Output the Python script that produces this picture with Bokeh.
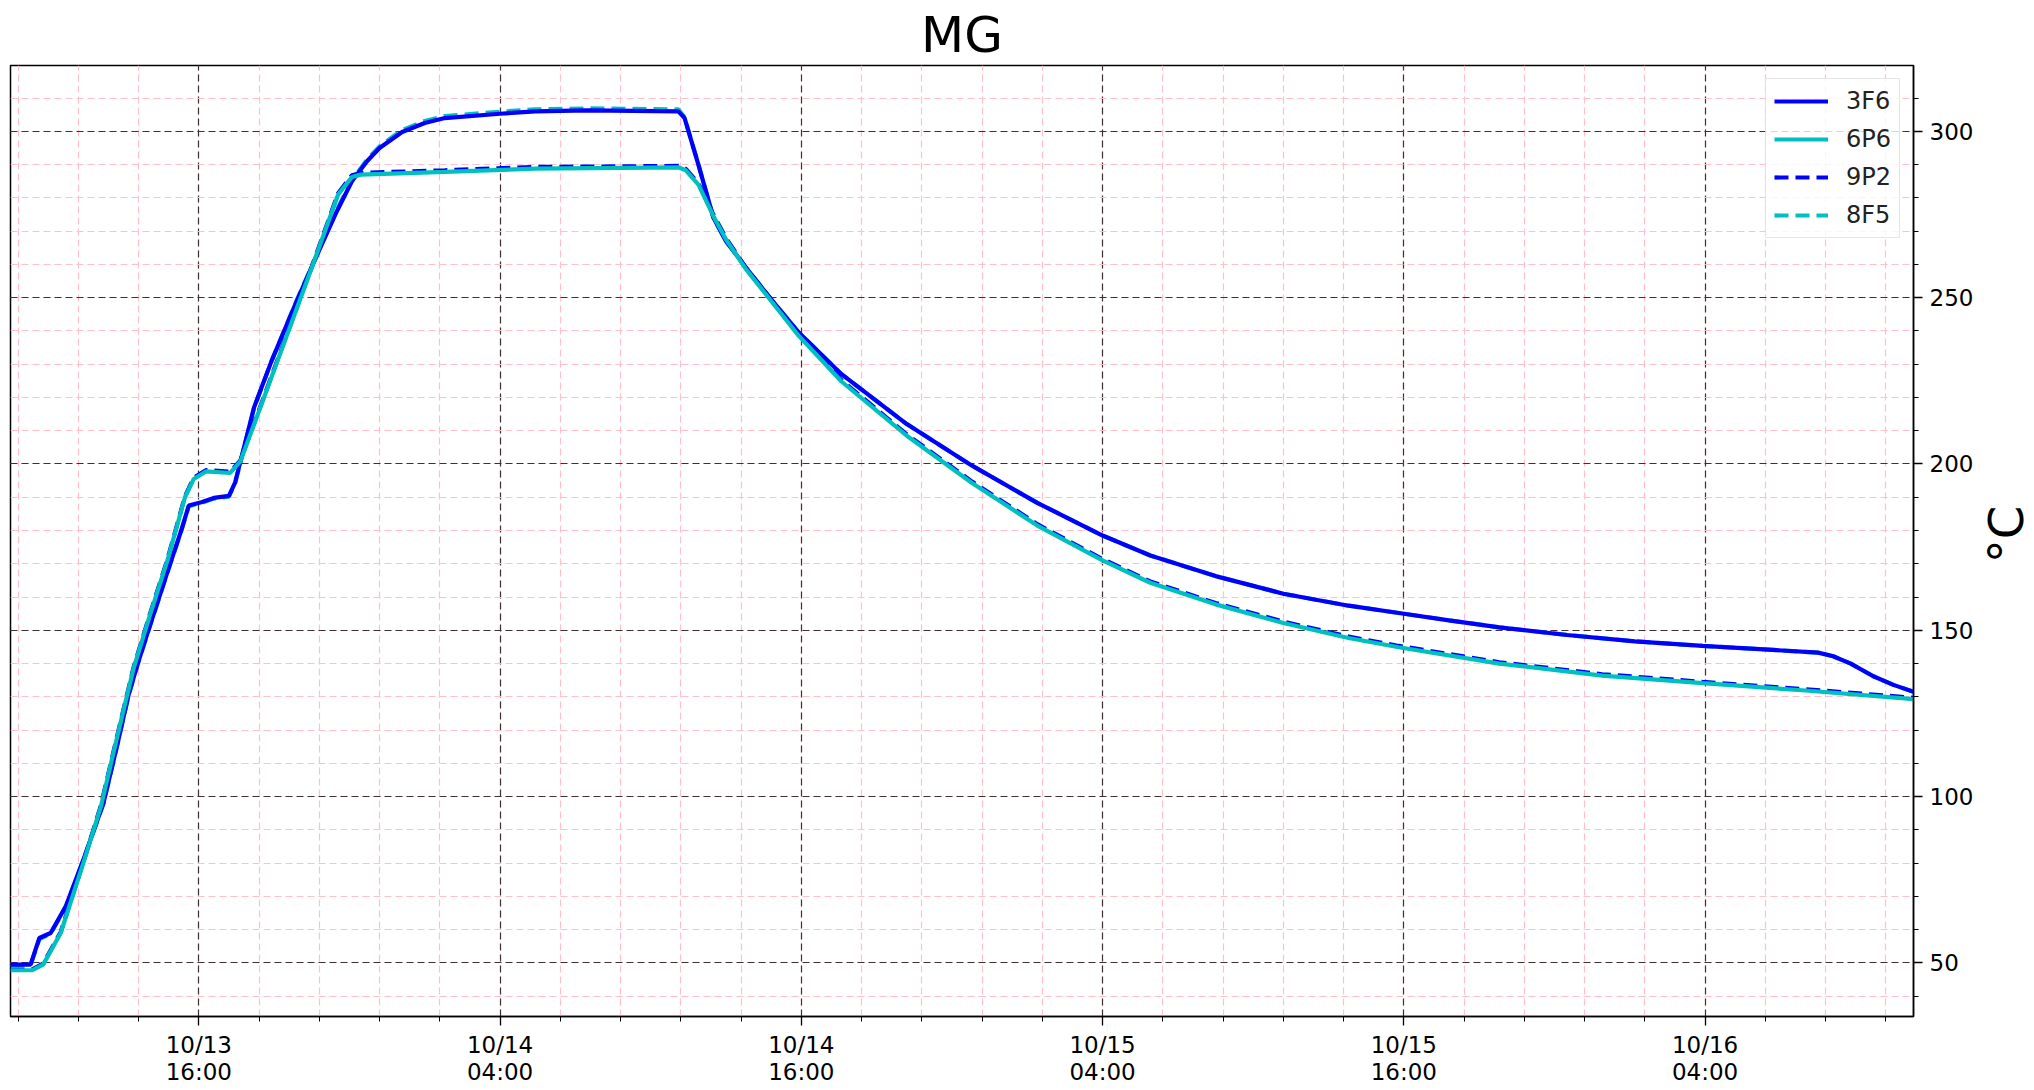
import math
from datetime import datetime, timedelta

from bokeh.plotting import figure
from bokeh.layouts import row
from bokeh.models import (FixedTicker, SingleIntervalTicker, CustomJSTickFormatter,
                          Legend, LegendItem, Range1d)
from bokeh.core.properties import value
from bokeh.embed import file_html
from bokeh.resources import INLINE

# ---------------- data ----------------
START = datetime(2023, 10, 13, 8, 30)

# hours after START for the hotter pair (3F6 / 8F5)
HOURS_A = [0.0, 0.8, 1.15, 1.6, 2.2, 2.9, 3.7, 4.25, 4.7, 5.05, 5.45, 6.25, 6.8, 7.1,
           7.6, 8.1, 8.7, 8.95, 9.15, 9.7, 10.4, 11.4, 12.4, 13.0, 13.6, 14.2, 14.7,
           15.6, 16.5, 17.3, 19.5, 20.9, 23.0, 26.6, 26.85, 27.4, 28.0, 28.5, 29.3,
           30.3, 31.4, 33.1, 35.7, 38.3, 40.9, 43.5, 45.4, 48.0, 50.7, 53.3, 55.3,
           57.3, 59.3, 62.0, 64.7, 67.4, 70.2, 72.0, 72.6, 73.3, 74.2, 75.0, 75.8]
T_3F6 = [49.5, 49.5, 57.5, 59.0, 67.0, 81.0, 98.0, 115.5, 130.5, 139.5, 149.0, 167.5,
         180.0, 187.5, 188.5, 189.8, 190.4, 194.5, 200.5, 217.0, 231.0, 249.0, 266.0,
         276.0, 285.0, 291.0, 295.0, 299.8, 302.5, 304.0, 305.3, 306.0, 306.3, 306.0,
         304.0, 290.0, 274.0, 267.0, 259.0, 249.5, 239.5, 227.0, 212.0, 199.5, 188.3,
         178.5, 172.5, 166.3, 161.0, 157.4, 155.2, 153.0, 150.9, 148.6, 146.7, 145.3,
         144.1, 143.3, 142.2, 140.0, 136.2, 133.6, 131.5]
T_8F5 = [49.3, 49.3, 57.2, 58.8, 66.8, 80.8, 97.8, 115.3, 130.3, 139.3, 148.8, 167.3,
         179.8, 187.3, 188.3, 189.6, 190.2, 194.3, 200.3, 216.8, 231.0, 249.2, 266.3,
         276.4, 285.4, 291.5, 295.5, 300.4, 303.1, 304.6, 305.9, 306.6, 306.9, 306.6,
         304.2, 290.0, 274.0, 267.0, 259.0, 249.5, 239.5, 227.0, 212.0, 199.5, 188.3,
         178.5, 172.5, 166.3, 161.0, 157.4, 155.2, 153.0, 150.9, 148.6, 146.7, 145.3,
         144.1, 143.3, 142.2, 140.0, 136.2, 133.6, 131.5]

# hours after START for the cooler pair (6P6 / 9P2)
HOURS_B = [0.0, 0.85, 1.3, 2.0, 2.9, 3.6, 4.25, 4.9, 5.55, 6.25, 6.95, 7.3, 7.8, 8.75,
           9.15, 10.05, 12.0, 13.05, 13.6, 13.95, 17.3, 20.9, 26.6, 26.9, 27.4, 28.0,
           28.5, 29.3, 30.3, 31.4, 33.1, 35.7, 38.3, 40.9, 43.5, 45.4, 48.0, 50.7,
           53.3, 55.3, 59.3, 63.4, 67.4, 71.5, 75.8]
T_6P6 = [47.8, 47.8, 49.5, 59.0, 80.0, 97.0, 118.0, 138.5, 154.5, 171.0, 190.0, 195.5,
         197.8, 197.3, 200.7, 219.0, 259.0, 281.0, 286.3, 287.0, 287.8, 288.8, 289.2,
         288.3, 284.0, 274.5, 267.5, 258.5, 249.0, 238.5, 224.8, 208.5, 194.3, 181.5,
         171.0, 164.3, 157.8, 152.2, 147.7, 144.9, 140.0, 136.4, 134.1, 131.9, 129.3]
T_9P2 = [48.0, 48.0, 49.8, 59.3, 80.3, 97.3, 118.3, 138.8, 154.8, 171.3, 190.3, 195.9,
         198.2, 197.7, 201.0, 219.3, 259.3, 281.4, 286.8, 287.5, 288.3, 289.3, 289.6,
         288.7, 284.4, 274.9, 267.9, 258.9, 249.4, 238.9, 225.2, 208.9, 194.7, 181.9,
         171.4, 164.7, 158.2, 152.6, 148.1, 145.3, 140.4, 136.8, 134.5, 132.3, 129.7]

SERIES = ["3F6", "6P6", "9P2", "8F5"]
Y_MIN, Y_MAX = 33.9, 319.8
Y_LABEL = "°C"

# ---------------- helpers ----------------
def to_dt(hours):
    return [START + timedelta(hours=h) for h in hours]

def ms(dt):
    return (dt - datetime(1970, 1, 1)).total_seconds() * 1000.0

x_a = to_dt(HOURS_A)
x_b = to_dt(HOURS_B)
x_start = START + timedelta(hours=min(HOURS_A[0], HOURS_B[0]))
x_end = START + timedelta(hours=max(HOURS_A[-1], HOURS_B[-1]))

# major ticks every 12 h at 04:00 / 16:00, minor ticks every 2.4 h
first_major = datetime(2023, 10, 13, 16, 0)
majors, minors = [], []
k = -2
while True:
    t = first_major + timedelta(hours=12 * k)
    if t > x_end:
        break
    for j in range(5):
        m = t + timedelta(hours=2.4 * j)
        if x_start <= m <= x_end:
            minors.append(ms(m))
    if x_start <= t:
        majors.append(ms(t))
    k += 1

FONT = "DejaVu Sans"
TOTAL_W, TOTAL_H = 2034, 1090
LABEL_W = 58  # strip on the far right that holds the rotated unit label

p = figure(width=TOTAL_W - LABEL_W, height=TOTAL_H, x_axis_type="datetime",
           y_axis_location="right", output_backend="svg", toolbar_location=None,
           min_border_left=10, min_border_right=61, min_border_top=65,
           min_border_bottom=74)
p.x_range = Range1d(ms(x_start), ms(x_end))
p.y_range = Range1d(Y_MIN, Y_MAX)

p.title.text = "MG"
p.title.align = "center"
p.title.text_font = FONT
p.title.text_font_size = "50px"
p.title.text_font_style = "normal"
p.title.text_color = "black"
p.title.standoff = 3

p.background_fill_color = "white"
p.border_fill_color = "white"
p.outline_line_color = "black"
p.outline_line_width = 1.5
p.outline_line_alpha = 1.0

# x axis
xa = p.xaxis[0]
xa.ticker = FixedTicker(ticks=majors, minor_ticks=minors)
xa.formatter = CustomJSTickFormatter(code="""
    const d = new Date(tick);
    const pad = (n) => String(n).padStart(2, '0');
    return pad(d.getUTCMonth() + 1) + '/' + pad(d.getUTCDate()) + '\\n' +
           pad(d.getUTCHours()) + ':' + pad(d.getUTCMinutes());
""")
xa.major_label_text_line_height = 1.05
# y axis
ya = p.yaxis[0]
ya.ticker = SingleIntervalTicker(interval=50, num_minor_ticks=5)

for ax in (xa, ya):
    ax.axis_line_color = "black"
    ax.axis_line_width = 1.5
    ax.major_tick_line_color = "black"
    ax.minor_tick_line_color = "black"
    ax.major_tick_line_width = 1.3
    ax.minor_tick_line_width = 1.0
    ax.major_tick_in = 0
    ax.minor_tick_in = 0
    ax.major_tick_out = 9
    ax.minor_tick_out = 5
    ax.major_label_text_font = FONT
    ax.major_label_text_font_size = "23px"
    ax.major_label_text_color = "black"
    ax.major_label_standoff = 7
xa.major_label_standoff = 6

# grids
for g in (p.xgrid[0], p.ygrid[0]):
    g.grid_line_color = "black"
    g.grid_line_alpha = 0.75
    g.grid_line_dash = "7 4"
    g.grid_line_width = 1.2
    g.minor_grid_line_color = "pink"
    g.minor_grid_line_alpha = 1.0
    g.minor_grid_line_dash = "7 4"
    g.minor_grid_line_width = 1.2
p.xgrid[0].ticker = xa.ticker
p.ygrid[0].ticker = ya.ticker

BLUE = "#0000ff"
CYAN = "#00bfbf"
LW = 4.2

# render order: partners underneath so the overlap looks like the reference
r_8f5 = p.line(x_a, T_8F5, line_color=CYAN, line_width=LW, line_dash="14 7")
r_3f6 = p.line(x_a, T_3F6, line_color=BLUE, line_width=LW)
r_9p2 = p.line(x_b, T_9P2, line_color=BLUE, line_width=LW, line_dash="14 7")
r_6p6 = p.line(x_b, T_6P6, line_color=CYAN, line_width=LW)

renderers = {"3F6": r_3f6, "6P6": r_6p6, "9P2": r_9p2, "8F5": r_8f5}
legend = Legend(items=[LegendItem(label=s, renderers=[renderers[s]]) for s in SERIES],
                location="top_right")
legend.margin = 13
legend.padding = 8
legend.spacing = 10
legend.glyph_width = 54
legend.glyph_height = 20
legend.label_standoff = 18
legend.label_text_font = FONT
legend.label_text_font_size = "24px"
legend.label_text_color = "#222222"
legend.border_line_color = "#cccccc"
legend.border_line_width = 1.5
legend.background_fill_color = "white"
legend.background_fill_alpha = 0.8
p.add_layout(legend, "center")

# right-hand strip carrying the y-axis title, reading bottom-to-top
q = figure(width=LABEL_W, height=TOTAL_H, x_axis_type=None, y_axis_type=None,
           output_backend="svg", toolbar_location=None,
           min_border_left=0, min_border_right=0, min_border_top=0,
           min_border_bottom=0, x_range=Range1d(0, LABEL_W), y_range=Range1d(0, TOTAL_H))
q.outline_line_color = None
q.grid.visible = False
q.background_fill_color = "white"
q.border_fill_color = "white"
q.text(x=[LABEL_W / 2], y=[TOTAL_H - 537.5], text=[Y_LABEL], angle=math.pi / 2,
       text_align="center", text_baseline="middle", text_font=value(FONT),
       text_font_size="48px", text_color="black")

layout = row(p, q, spacing=0)
open("out.html", "w").write(file_html(layout, INLINE))
